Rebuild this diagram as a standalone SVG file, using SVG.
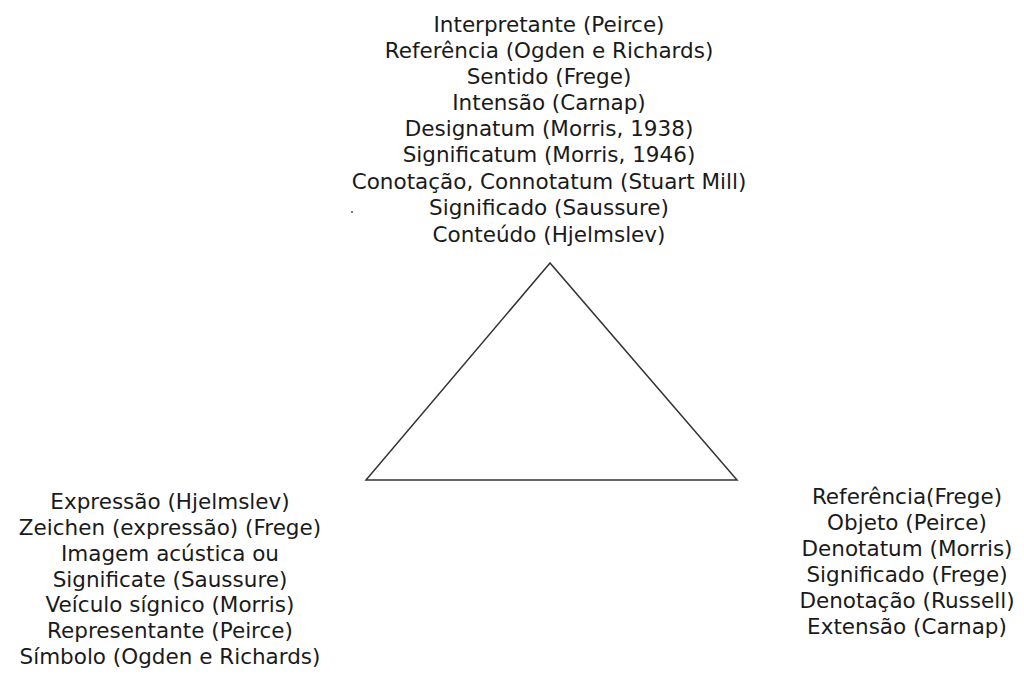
<svg xmlns="http://www.w3.org/2000/svg" width="1024" height="675" viewBox="0 0 1024 675">
<style>
.t{font-family:"DejaVu Sans","Open Sans",sans-serif;font-size:21.5px;fill:#1a1a1a;text-anchor:middle}
.tri{fill:none;stroke:#333;stroke-width:1.5}
</style>
<rect width="1024" height="675" fill="#fff"/>
<g id="triangle">
<polygon class="tri" points="550,263 366,480 737,480"/>
</g>
<g id="connectors"></g>
<g id="top">
<text class="t"><tspan x="549" y="32">Interpretante (Peirce)</tspan><tspan x="549" y="58">Referência (Ogden e Richards)</tspan><tspan x="549" y="84">Sentido (Frege)</tspan><tspan x="549" y="110">Intensão (Carnap)</tspan><tspan x="549" y="136">Designatum (Morris, 1938)</tspan><tspan x="549" y="162">Significatum (Morris, 1946)</tspan><tspan x="549" y="189">Conotação, Connotatum (Stuart Mill)</tspan><tspan x="549" y="215">Significado (Saussure)</tspan><tspan x="549" y="242">Conteúdo (Hjelmslev)</tspan></text>
<circle cx="352" cy="212" r="1" fill="#555"/>
</g>
<g id="left">
<text class="t"><tspan x="170" y="509">Expressão (Hjelmslev)</tspan><tspan x="170" y="535">Zeichen (expressão) (Frege)</tspan><tspan x="170" y="561">Imagem acústica ou</tspan><tspan x="170" y="587">Significate (Saussure)</tspan><tspan x="170" y="612">Veículo sígnico (Morris)</tspan><tspan x="170" y="638">Representante (Peirce)</tspan><tspan x="170" y="664">Símbolo (Ogden e Richards)</tspan></text>
</g>
<g id="right">
<text class="t"><tspan x="907" y="504">Referência(Frege)</tspan><tspan x="907" y="530">Objeto (Peirce)</tspan><tspan x="907" y="556">Denotatum (Morris)</tspan><tspan x="907" y="582">Significado (Frege)</tspan><tspan x="907" y="608">Denotação (Russell)</tspan><tspan x="907" y="634">Extensão (Carnap)</tspan></text>
</g>
</svg>
